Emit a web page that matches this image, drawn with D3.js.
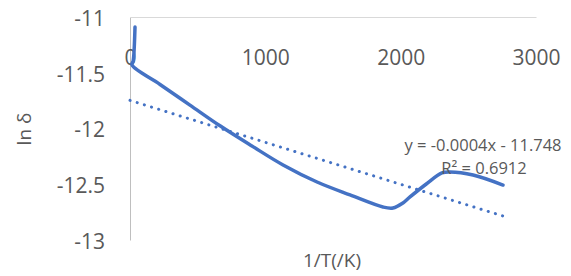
<!DOCTYPE html>
<html>
<head>
<meta charset="utf-8">
<script src="https://cdn.jsdelivr.net/npm/d3@7"></script>
<style>
  html, body { margin: 0; padding: 0; background: #fff; }
  svg { display: block; }
  text { font-family: "Open Sans", "Liberation Sans", sans-serif; fill: #595959; }
</style>
</head>
<body>
<svg id="chart" width="571" height="276"></svg>
<script>
// ---- data ----
const xValues = [37, 24, 15, 222, 443, 665, 901, 1131, 1382, 1626, 1869, 1943, 2017, 2069, 2187, 2305, 2365, 2535, 2756];
const yValues = [-11.09, -11.39, -11.43, -11.605, -11.79, -11.976, -12.157, -12.327, -12.48, -12.596, -12.704, -12.713, -12.668, -12.614, -12.50, -12.399, -12.39, -12.417, -12.507];
const trendX = [0, 2756];
const trendY = [-11.748, -12.785];
const xTicks = [0, 1000, 2000, 3000];
const yTicks = [-11, -11.5, -12, -12.5, -13];
const equationLines = ["y = -0.0004x - 11.748", "R² = 0.6912"];
const xTitle = "1/T(/K)";
const yTitle = "ln δ";

// ---- chart ----
const svg = d3.select("#chart");
svg.append("rect").attr("width", 571).attr("height", 276).attr("fill", "#fff");

const x = d3.scaleLinear().domain([0, 3000]).range([130, 536]);
const y = d3.scaleLinear().domain([-13, -11]).range([240, 17]);

// left axis
const yAxis = svg.append("g").attr("transform", "translate(130,0)")
  .call(d3.axisLeft(y).tickValues(yTicks).tickSize(0).tickSizeOuter(0).tickPadding(25)
        .tickFormat(d => String(d)));
yAxis.select(".domain").attr("stroke", "#bfbfbf").attr("stroke-width", 1);
yAxis.selectAll("text").attr("font-size", 21).attr("dy", "0.4em")
  .style("font-family", '"Open Sans", sans-serif').attr("fill", "#595959");

// top axis (crosses at y = -11), labels below the line
const xAxis = svg.append("g").attr("transform", `translate(0,${y(-11)})`)
  .call(d3.axisBottom(x).tickValues(xTicks).tickSize(0).tickSizeOuter(0).tickPadding(33)
        .tickFormat(d => String(d)));
xAxis.select(".domain").attr("stroke", "#d9d9d9").attr("stroke-width", 1.2);
xAxis.selectAll("text").attr("font-size", 21)
  .style("font-family", '"Open Sans", sans-serif').attr("fill", "#595959");

// trendline (dotted)
const pts = xValues.map((v, i) => [v, yValues[i]]);
const tpts = trendX.map((v, i) => [v, trendY[i]]);
svg.append("path")
  .attr("d", d3.line().x(d => x(d[0])).y(d => y(d[1]))(tpts))
  .attr("fill", "none").attr("stroke", "#4472C4").attr("stroke-width", 3)
  .attr("stroke-linecap", "round").attr("stroke-dasharray", "0.1 7.4");

// series (smoothed)
svg.append("path")
  .attr("d", d3.line().curve(d3.curveCatmullRom.alpha(0.5)).x(d => x(d[0])).y(d => y(d[1]))(pts))
  .attr("fill", "none").attr("stroke", "#4472C4").attr("stroke-width", 3.5)
  .attr("stroke-linecap", "round").attr("stroke-linejoin", "round");

// equation label
svg.append("text").attr("x", 483).attr("y", 151).attr("text-anchor", "middle")
  .attr("font-size", 16.5).text(equationLines[0]);
svg.append("text").attr("x", 484).attr("y", 174).attr("text-anchor", "middle")
  .attr("font-size", 16.5).text(equationLines[1]);

// axis titles
svg.append("text").attr("x", 332).attr("y", 267).attr("text-anchor", "middle")
  .attr("font-size", 19).text(xTitle);
svg.append("text").attr("transform", "translate(31,129) rotate(-90)")
  .attr("text-anchor", "middle").attr("font-size", 19).text(yTitle);
</script>
</body>
</html>
